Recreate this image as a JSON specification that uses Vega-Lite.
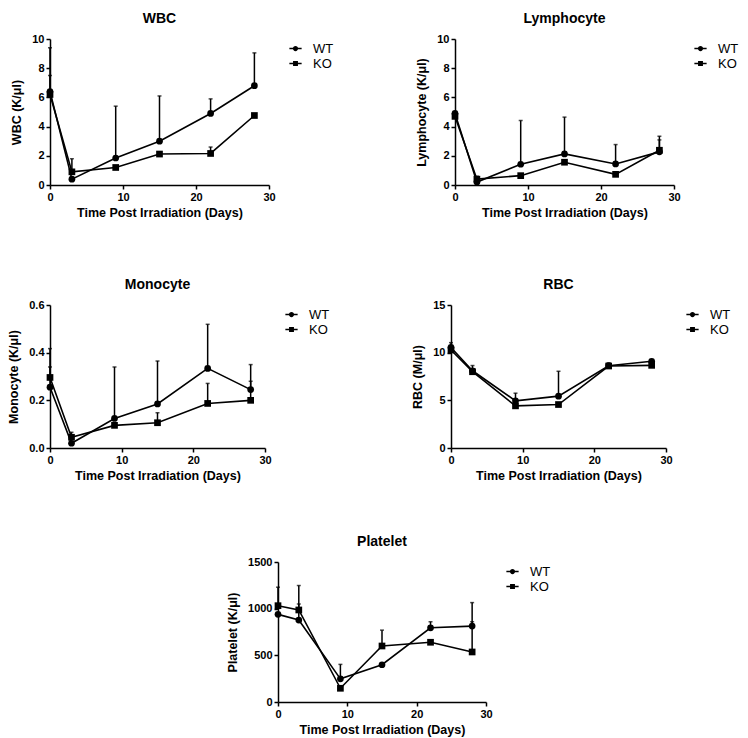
{
  "$schema": "https://vega.github.io/schema/vega-lite/v6.json",
  "padding": {"top": 12, "left": 7, "right": 5, "bottom": 2},
  "background": "white",
  "spacing": 53,
  "resolve": {"scale": {"shape": "independent"}, "legend": {"shape": "independent"}},
  "config": {
    "font": "Liberation Sans",
    "view": {"stroke": null},
    "title": {"fontSize": 14, "fontWeight": "bold", "font": "Liberation Sans", "color": "black", "offset": 7},
    "scale": {"nice": false},
    "axis": {
      "grid": false, "domainColor": "black", "tickColor": "black", "labelColor": "black", "titleColor": "black",
      "domainWidth": 1.5, "tickWidth": 1.5, "tickSize": 4, "labelOverlap": false, "labelFlush": false,
      "labelFont": "Liberation Sans", "labelFontWeight": "bold", "labelFontSize": 11,
      "titleFont": "Liberation Sans", "titleFontWeight": "bold", "titleFontSize": 12.5, "labelPadding": 2
    },
    "axisY": {"titlePadding": 8},
    "legend": {
      "orient": "right", "offset": 17, "padding": 3, "title": null,
      "labelFont": "Liberation Sans", "labelFontSize": 13, "labelColor": "black",
      "symbolSize": 49, "labelOffset": 11, "rowPadding": 1, "symbolOpacity": 1,
      "symbolStrokeColor": "black", "symbolFillColor": "black", "symbolStrokeWidth": 0
    },
    "concat": {"spacing": 78}
  },
  "datasets": {
    "wbc": [
      {"day": 0, "group": "WT", "mean": 6.4, "upper": 9.4},
      {"day": 3, "group": "WT", "mean": 0.4, "upper": null},
      {"day": 9, "group": "WT", "mean": 1.85, "upper": 5.4},
      {"day": 15, "group": "WT", "mean": 3.0, "upper": 6.1},
      {"day": 22, "group": "WT", "mean": 4.9, "upper": 5.9},
      {"day": 28, "group": "WT", "mean": 6.8, "upper": 9.05},
      {"day": 0, "group": "KO", "mean": 6.2, "upper": 7.5},
      {"day": 3, "group": "KO", "mean": 0.9, "upper": 1.8},
      {"day": 9, "group": "KO", "mean": 1.2, "upper": null},
      {"day": 15, "group": "KO", "mean": 2.12, "upper": null},
      {"day": 22, "group": "KO", "mean": 2.16, "upper": 2.6},
      {"day": 28, "group": "KO", "mean": 4.76, "upper": null}
    ],
    "lym": [
      {"day": 0, "group": "WT", "mean": 4.9, "upper": null},
      {"day": 3, "group": "WT", "mean": 0.2, "upper": null},
      {"day": 9, "group": "WT", "mean": 1.42, "upper": 4.42},
      {"day": 15, "group": "WT", "mean": 2.13, "upper": 4.65},
      {"day": 22, "group": "WT", "mean": 1.44, "upper": 2.77},
      {"day": 28, "group": "WT", "mean": 2.27, "upper": 3.34},
      {"day": 0, "group": "KO", "mean": 4.7, "upper": null},
      {"day": 3, "group": "KO", "mean": 0.4, "upper": 0.6},
      {"day": 9, "group": "KO", "mean": 0.64, "upper": null},
      {"day": 15, "group": "KO", "mean": 1.56, "upper": null},
      {"day": 22, "group": "KO", "mean": 0.73, "upper": null},
      {"day": 28, "group": "KO", "mean": 2.38, "upper": 3.09}
    ],
    "mono": [
      {"day": 0, "group": "WT", "mean": 0.255, "upper": 0.34},
      {"day": 3, "group": "WT", "mean": 0.02, "upper": null},
      {"day": 9, "group": "WT", "mean": 0.124, "upper": 0.34},
      {"day": 15, "group": "WT", "mean": 0.185, "upper": 0.365},
      {"day": 22, "group": "WT", "mean": 0.334, "upper": 0.519},
      {"day": 28, "group": "WT", "mean": 0.245, "upper": 0.35},
      {"day": 0, "group": "KO", "mean": 0.296, "upper": 0.417},
      {"day": 3, "group": "KO", "mean": 0.045, "upper": 0.066},
      {"day": 9, "group": "KO", "mean": 0.095, "upper": null},
      {"day": 15, "group": "KO", "mean": 0.106, "upper": 0.148},
      {"day": 22, "group": "KO", "mean": 0.187, "upper": 0.271},
      {"day": 28, "group": "KO", "mean": 0.2, "upper": 0.28}
    ],
    "rbc": [
      {"day": 0, "group": "WT", "mean": 10.55, "upper": 11.05},
      {"day": 3, "group": "WT", "mean": 8.1, "upper": 8.65},
      {"day": 9, "group": "WT", "mean": 4.95, "upper": 5.75},
      {"day": 15, "group": "WT", "mean": 5.44, "upper": 8.05},
      {"day": 22, "group": "WT", "mean": 8.63, "upper": 8.9},
      {"day": 28, "group": "WT", "mean": 9.1, "upper": null},
      {"day": 0, "group": "KO", "mean": 10.28, "upper": null},
      {"day": 3, "group": "KO", "mean": 8.0, "upper": null},
      {"day": 9, "group": "KO", "mean": 4.42, "upper": null},
      {"day": 15, "group": "KO", "mean": 4.56, "upper": null},
      {"day": 22, "group": "KO", "mean": 8.6, "upper": null},
      {"day": 28, "group": "KO", "mean": 8.67, "upper": null}
    ],
    "plt": [
      {"day": 0, "group": "WT", "mean": 939, "upper": null},
      {"day": 3, "group": "WT", "mean": 878, "upper": 1050},
      {"day": 9, "group": "WT", "mean": 248, "upper": 403},
      {"day": 15, "group": "WT", "mean": 399, "upper": null},
      {"day": 22, "group": "WT", "mean": 795, "upper": 860},
      {"day": 28, "group": "WT", "mean": 813, "upper": 1065},
      {"day": 0, "group": "KO", "mean": 1032, "upper": 1230},
      {"day": 3, "group": "KO", "mean": 986, "upper": 1248},
      {"day": 9, "group": "KO", "mean": 147, "upper": null},
      {"day": 15, "group": "KO", "mean": 600, "upper": 770},
      {"day": 22, "group": "KO", "mean": 640, "upper": null},
      {"day": 28, "group": "KO", "mean": 536, "upper": 860}
    ]
  },
  "vconcat": [
    {
      "spacing": 59,
      "resolve": {"scale": {"shape": "independent"}, "legend": {"shape": "independent"}},
      "vconcat": [
        {
          "resolve": {"scale": {"shape": "independent"}, "legend": {"shape": "independent"}},
          "hconcat": [
            {
              "title": "WBC", "width": 219, "height": 146, "data": {"name": "wbc"},
              "resolve": {"scale": {"shape": "independent"}},
              "encoding": {
                "x": {"field": "day", "type": "quantitative", "scale": {"domain": [0, 30], "nice": false}, "axis": {"values": [0, 10, 20, 30], "tickCount": 10, "title": "Time Post Irradiation (Days)"}}
              },
              "layer": [
                {"mark": {"type": "rule", "color": "black", "strokeWidth": 1.5}, "encoding": {"y": {"field": "mean", "type": "quantitative", "scale": {"domain": [0, 10], "nice": false}, "axis": {"values": [0, 2, 4, 6, 8, 10], "tickCount": 10, "title": "WBC (K/μl)"}}, "y2": {"field": "upper"}}},
                {"mark": {"type": "tick", "orient": "horizontal", "color": "black", "size": 4, "thickness": 1.5}, "encoding": {"y": {"field": "upper", "type": "quantitative"}}},
                {"mark": {"type": "line", "color": "black", "strokeWidth": 1.6}, "encoding": {"y": {"field": "mean", "type": "quantitative"}, "detail": {"field": "group"}}},
                {"mark": {"type": "point", "filled": true, "color": "black", "size": 45, "opacity": 1}, "encoding": {"y": {"field": "mean", "type": "quantitative"},
                  "shape": {"field": "group", "type": "nominal", "scale": {"domain": ["WT", "KO"], "range": ["circle", "square"]}, "legend": null}}},
                {"mark": {"type": "point", "filled": true, "color": "black", "opacity": 0}, "encoding": {"y": {"field": "mean", "type": "quantitative"},
                  "shape": {"field": "group", "type": "nominal", "scale": {"domain": ["WT", "KO"], "range": ["M-1.75,-0.2L1.75,-0.2L1.75,0.2L-1.75,0.2ZM-0.75,0A0.75,0.75,0,1,1,0.75,0A0.75,0.75,0,1,1,-0.75,0Z", "M-1.75,-0.2L1.75,-0.2L1.75,0.2L-1.75,0.2ZM-0.7,-0.7L0.7,-0.7L0.7,0.7L-0.7,0.7Z"]},
                    "legend": {"symbolOpacity": 1}}}}
              ]
            },
            {
              "title": "Lymphocyte", "width": 219, "height": 146, "data": {"name": "lym"},
              "resolve": {"scale": {"shape": "independent"}},
              "encoding": {
                "x": {"field": "day", "type": "quantitative", "scale": {"domain": [0, 30], "nice": false}, "axis": {"values": [0, 10, 20, 30], "tickCount": 10, "title": "Time Post Irradiation (Days)"}}
              },
              "layer": [
                {"mark": {"type": "rule", "color": "black", "strokeWidth": 1.5}, "encoding": {"y": {"field": "mean", "type": "quantitative", "scale": {"domain": [0, 10], "nice": false}, "axis": {"values": [0, 2, 4, 6, 8, 10], "tickCount": 10, "title": "Lymphocyte (K/μl)"}}, "y2": {"field": "upper"}}},
                {"mark": {"type": "tick", "orient": "horizontal", "color": "black", "size": 4, "thickness": 1.5}, "encoding": {"y": {"field": "upper", "type": "quantitative"}}},
                {"mark": {"type": "line", "color": "black", "strokeWidth": 1.6}, "encoding": {"y": {"field": "mean", "type": "quantitative"}, "detail": {"field": "group"}}},
                {"mark": {"type": "point", "filled": true, "color": "black", "size": 45, "opacity": 1}, "encoding": {"y": {"field": "mean", "type": "quantitative"},
                  "shape": {"field": "group", "type": "nominal", "scale": {"domain": ["WT", "KO"], "range": ["circle", "square"]}, "legend": null}}},
                {"mark": {"type": "point", "filled": true, "color": "black", "opacity": 0}, "encoding": {"y": {"field": "mean", "type": "quantitative"},
                  "shape": {"field": "group", "type": "nominal", "scale": {"domain": ["WT", "KO"], "range": ["M-1.75,-0.2L1.75,-0.2L1.75,0.2L-1.75,0.2ZM-0.75,0A0.75,0.75,0,1,1,0.75,0A0.75,0.75,0,1,1,-0.75,0Z", "M-1.75,-0.2L1.75,-0.2L1.75,0.2L-1.75,0.2ZM-0.7,-0.7L0.7,-0.7L0.7,0.7L-0.7,0.7Z"]},
                    "legend": {"symbolOpacity": 1}}}}
              ]
            }
          ]
        },
        {
          "resolve": {"scale": {"shape": "independent"}, "legend": {"shape": "independent"}},
          "hconcat": [
            {
              "title": "Monocyte", "width": 215, "height": 143, "data": {"name": "mono"},
              "resolve": {"scale": {"shape": "independent"}},
              "encoding": {
                "x": {"field": "day", "type": "quantitative", "scale": {"domain": [0, 30], "nice": false}, "axis": {"values": [0, 10, 20, 30], "tickCount": 10, "title": "Time Post Irradiation (Days)"}}
              },
              "layer": [
                {"mark": {"type": "rule", "color": "black", "strokeWidth": 1.5}, "encoding": {"y": {"field": "mean", "type": "quantitative", "scale": {"domain": [0, 0.6], "nice": false}, "axis": {"values": [0, 0.2, 0.4, 0.6], "tickCount": 10, "format": ".1f", "title": "Monocyte (K/μl)"}}, "y2": {"field": "upper"}}},
                {"mark": {"type": "tick", "orient": "horizontal", "color": "black", "size": 4, "thickness": 1.5}, "encoding": {"y": {"field": "upper", "type": "quantitative"}}},
                {"mark": {"type": "line", "color": "black", "strokeWidth": 1.6}, "encoding": {"y": {"field": "mean", "type": "quantitative"}, "detail": {"field": "group"}}},
                {"mark": {"type": "point", "filled": true, "color": "black", "size": 45, "opacity": 1}, "encoding": {"y": {"field": "mean", "type": "quantitative"},
                  "shape": {"field": "group", "type": "nominal", "scale": {"domain": ["WT", "KO"], "range": ["circle", "square"]}, "legend": null}}},
                {"mark": {"type": "point", "filled": true, "color": "black", "opacity": 0}, "encoding": {"y": {"field": "mean", "type": "quantitative"},
                  "shape": {"field": "group", "type": "nominal", "scale": {"domain": ["WT", "KO"], "range": ["M-1.75,-0.2L1.75,-0.2L1.75,0.2L-1.75,0.2ZM-0.75,0A0.75,0.75,0,1,1,0.75,0A0.75,0.75,0,1,1,-0.75,0Z", "M-1.75,-0.2L1.75,-0.2L1.75,0.2L-1.75,0.2ZM-0.7,-0.7L0.7,-0.7L0.7,0.7L-0.7,0.7Z"]},
                    "legend": {"symbolOpacity": 1}}}}
              ]
            },
            {
              "title": "RBC", "width": 215, "height": 143, "data": {"name": "rbc"},
              "resolve": {"scale": {"shape": "independent"}},
              "encoding": {
                "x": {"field": "day", "type": "quantitative", "scale": {"domain": [0, 30], "nice": false}, "axis": {"values": [0, 10, 20, 30], "tickCount": 10, "title": "Time Post Irradiation (Days)"}}
              },
              "layer": [
                {"mark": {"type": "rule", "color": "black", "strokeWidth": 1.5}, "encoding": {"y": {"field": "mean", "type": "quantitative", "scale": {"domain": [0, 15], "nice": false}, "axis": {"values": [0, 5, 10, 15], "tickCount": 10, "title": "RBC (M/μl)"}}, "y2": {"field": "upper"}}},
                {"mark": {"type": "tick", "orient": "horizontal", "color": "black", "size": 4, "thickness": 1.5}, "encoding": {"y": {"field": "upper", "type": "quantitative"}}},
                {"mark": {"type": "line", "color": "black", "strokeWidth": 1.6}, "encoding": {"y": {"field": "mean", "type": "quantitative"}, "detail": {"field": "group"}}},
                {"mark": {"type": "point", "filled": true, "color": "black", "size": 45, "opacity": 1}, "encoding": {"y": {"field": "mean", "type": "quantitative"},
                  "shape": {"field": "group", "type": "nominal", "scale": {"domain": ["WT", "KO"], "range": ["circle", "square"]}, "legend": null}}},
                {"mark": {"type": "point", "filled": true, "color": "black", "opacity": 0}, "encoding": {"y": {"field": "mean", "type": "quantitative"},
                  "shape": {"field": "group", "type": "nominal", "scale": {"domain": ["WT", "KO"], "range": ["M-1.75,-0.2L1.75,-0.2L1.75,0.2L-1.75,0.2ZM-0.75,0A0.75,0.75,0,1,1,0.75,0A0.75,0.75,0,1,1,-0.75,0Z", "M-1.75,-0.2L1.75,-0.2L1.75,0.2L-1.75,0.2ZM-0.7,-0.7L0.7,-0.7L0.7,0.7L-0.7,0.7Z"]},
                    "legend": {"symbolOpacity": 1}}}}
              ]
            }
          ]
        }
      ]
    },
    {
      "spacing": 0,
      "resolve": {"scale": {"shape": "independent"}, "legend": {"shape": "independent"}},
      "hconcat": [
        {"width": 176, "height": 10, "data": {"values": []}, "mark": {"type": "point", "opacity": 0}, "encoding": {}},
        {
          "title": "Platelet", "width": 208, "height": 140, "data": {"name": "plt"},
          "resolve": {"scale": {"shape": "independent"}},
          "encoding": {
            "x": {"field": "day", "type": "quantitative", "scale": {"domain": [0, 30], "nice": false}, "axis": {"values": [0, 10, 20, 30], "tickCount": 10, "title": "Time Post Irradiation (Days)"}}
          },
          "layer": [
            {"mark": {"type": "rule", "color": "black", "strokeWidth": 1.5}, "encoding": {"y": {"field": "mean", "type": "quantitative", "scale": {"domain": [0, 1500], "nice": false}, "axis": {"values": [0, 500, 1000, 1500], "tickCount": 10, "format": "d", "title": "Platelet (K/μl)"}}, "y2": {"field": "upper"}}},
            {"mark": {"type": "tick", "orient": "horizontal", "color": "black", "size": 4, "thickness": 1.5}, "encoding": {"y": {"field": "upper", "type": "quantitative"}}},
            {"mark": {"type": "line", "color": "black", "strokeWidth": 1.6}, "encoding": {"y": {"field": "mean", "type": "quantitative"}, "detail": {"field": "group"}}},
            {"mark": {"type": "point", "filled": true, "color": "black", "size": 45, "opacity": 1}, "encoding": {"y": {"field": "mean", "type": "quantitative"},
              "shape": {"field": "group", "type": "nominal", "scale": {"domain": ["WT", "KO"], "range": ["circle", "square"]}, "legend": null}}},
            {"mark": {"type": "point", "filled": true, "color": "black", "opacity": 0}, "encoding": {"y": {"field": "mean", "type": "quantitative"},
              "shape": {"field": "group", "type": "nominal", "scale": {"domain": ["WT", "KO"], "range": ["M-1.75,-0.2L1.75,-0.2L1.75,0.2L-1.75,0.2ZM-0.75,0A0.75,0.75,0,1,1,0.75,0A0.75,0.75,0,1,1,-0.75,0Z", "M-1.75,-0.2L1.75,-0.2L1.75,0.2L-1.75,0.2ZM-0.7,-0.7L0.7,-0.7L0.7,0.7L-0.7,0.7Z"]},
                "legend": {"symbolOpacity": 1}}}}
          ]
        }
      ]
    }
  ]
}
